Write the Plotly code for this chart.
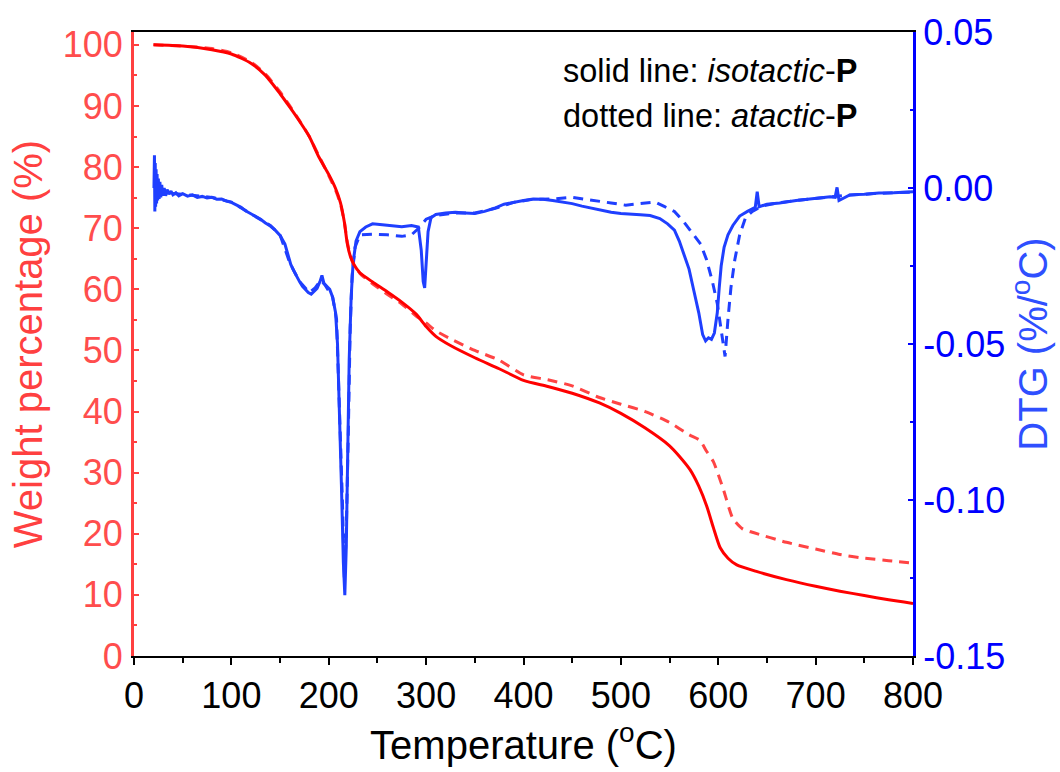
import plotly.graph_objects as go

# ---- TGA weight-loss curves (weight %, vs temperature in degC) ----
iso_wt_T = [20, 50, 80, 100, 120, 135, 150, 160, 170, 180, 190, 200, 207, 212, 216, 219,
            222, 226, 232, 245, 260, 275, 290, 300, 310, 325, 350, 375, 400, 425, 450,
            478, 500, 525, 550, 560, 571, 580, 588, 595, 602, 610, 619, 640, 670, 700,
            725, 750, 775, 800]
iso_wt = [100.0, 99.8, 99.2, 98.5, 97.0, 95.0, 92.0, 89.8, 87.5, 85.0, 81.6, 78.8, 76.5,
          74.2, 71.0, 67.5, 65.5, 64.0, 62.7, 61.2, 59.6, 57.9, 55.9, 53.9, 52.3, 50.8,
          48.8, 47.0, 45.1, 44.1, 43.0, 41.4, 39.7, 37.3, 34.4, 32.7, 30.5, 27.8, 24.6,
          21.0, 17.7, 16.0, 14.9, 13.8, 12.5, 11.4, 10.6, 9.9, 9.2, 8.6]

ata_wt_T = [20, 50, 80, 100, 120, 135, 150, 160, 170, 180, 190, 200, 207, 212, 216, 219,
            222, 226, 232, 245, 260, 275, 290, 300, 310, 325, 350, 375, 400, 425, 450,
            478, 500, 525, 550, 570, 581, 588, 595, 605, 615, 625, 636, 670, 700, 725,
            750, 775, 800]
ata_wt = [100.0, 99.8, 99.4, 98.7, 97.2, 95.2, 92.3, 90.0, 87.6, 85.0, 81.8, 78.6, 76.2,
          74.0, 71.0, 67.8, 65.6, 64.0, 62.6, 60.9, 59.2, 57.6, 55.6, 54.5, 53.2, 51.9,
          50.0, 48.4, 46.0, 45.2, 44.2, 42.3, 41.2, 40.0, 38.2, 36.2, 35.3, 33.5, 31.8,
          27.4, 22.5, 20.8, 20.2, 18.6, 17.5, 16.6, 16.0, 15.6, 15.2]

# ---- DTG curves (%/degC) ----
iso_dtg_T = [20.5, 21.0, 21.4, 21.8, 22.2, 22.7, 23.2, 23.7, 24.3, 25.0, 25.8, 26.6, 27.5,
             28.5, 29.5, 31, 32.5, 34, 36, 38, 40, 43, 46, 50, 55, 60, 65, 70, 75, 80, 85,
             90, 95, 100, 105, 110, 115, 120, 125, 130, 135, 140, 145, 150, 155, 158, 161,
             164, 167, 170, 173, 176, 179, 182, 185, 188, 191, 193, 195, 198, 201, 204,
             207, 209, 211, 213, 215, 216.5, 218, 219.5, 221, 223, 225, 228, 232, 238,
             245, 255, 265, 275, 285, 292, 295, 297, 298.5, 300, 302, 305, 310, 320, 330,
             340, 350, 360, 370, 380, 390, 400, 410, 420, 430, 440, 450, 460, 470, 480,
             490, 500, 510, 520, 530, 540, 548, 555, 560, 565, 570, 575, 580, 584, 587,
             590, 593, 596, 599, 601, 603, 606, 610, 615, 622, 630, 638, 640, 642, 650,
             663, 680, 700, 715, 720, 722, 724, 735, 750, 765, 780, 800]
iso_dtg = [0.0, 0.0105, -0.0075, 0.008, -0.006, 0.006, -0.005, 0.0045, -0.004, 0.003,
           -0.0035, 0.002, -0.003, 0.001, -0.0025, 0.0, -0.0025, -0.0005, -0.002, -0.001,
           -0.0022, -0.0015, -0.0025, -0.0018, -0.0026, -0.0022, -0.0030, -0.0027,
           -0.0032, -0.0030, -0.0036, -0.0035, -0.0042, -0.0046, -0.0055, -0.0062,
           -0.0074, -0.0083, -0.0092, -0.0100, -0.0112, -0.0122, -0.0135, -0.0152,
           -0.0180, -0.0215, -0.0245, -0.0265, -0.0285, -0.0300, -0.0315, -0.0325,
           -0.0335, -0.0340, -0.0330, -0.0322, -0.0300, -0.0280, -0.0305, -0.0315,
           -0.0325, -0.0350, -0.0400, -0.0500, -0.0700, -0.0950, -0.1200, -0.1305,
           -0.1150, -0.0850, -0.0550, -0.0350, -0.0240, -0.0170, -0.0140, -0.0125,
           -0.0115, -0.0118, -0.0122, -0.0124, -0.0120, -0.0125, -0.0200, -0.0300,
           -0.0320, -0.0250, -0.0140, -0.0095, -0.0085, -0.0080, -0.0078, -0.0080,
           -0.0082, -0.0075, -0.0065, -0.0052, -0.0045, -0.0040, -0.0035, -0.0036,
           -0.0040, -0.0045, -0.0050, -0.0058, -0.0065, -0.0072, -0.0078, -0.0082,
           -0.0085, -0.0086, -0.0088, -0.0098, -0.0115, -0.0135, -0.0170, -0.0215,
           -0.0260, -0.0330, -0.0400, -0.0470, -0.0490, -0.0480, -0.0485, -0.0465,
           -0.0400, -0.0320, -0.0250, -0.0190, -0.0150, -0.0120, -0.0090, -0.0075,
           -0.0062, -0.0012, -0.0060, -0.0052, -0.0048, -0.0040, -0.0033, -0.0028,
           -0.0030, 0.0002, -0.0040, -0.0022, -0.0020, -0.0016, -0.0015, -0.0012]

ata_dtg_T = [22, 30, 50, 80, 100, 120, 140, 150, 160, 170, 180, 186, 192, 196, 204, 208,
             211, 214, 216, 218, 220, 222, 224, 227, 232, 245, 260, 275, 285, 292, 300,
             310, 330, 350, 370, 390, 410, 430, 450, 470, 490, 505, 520, 535, 545, 555,
             565, 575, 582, 588, 594, 599, 603, 607, 610, 613, 617, 622, 628, 635, 645,
             660, 680, 700, 730, 760, 800]
ata_dtg = [-0.0020, -0.0015, -0.0020, -0.0030, -0.0045, -0.0082, -0.0120, -0.0150,
           -0.0240, -0.0300, -0.0335, -0.0320, -0.0295, -0.0310, -0.0350, -0.0420,
           -0.0700, -0.1000, -0.1250, -0.1100, -0.0800, -0.0450, -0.0280, -0.0190,
           -0.0150, -0.0148, -0.0150, -0.0155, -0.0150, -0.0130, -0.0100, -0.0088,
           -0.0080, -0.0080, -0.0066, -0.0046, -0.0036, -0.0035, -0.0030, -0.0038,
           -0.0048, -0.0055, -0.0050, -0.0045, -0.0060, -0.0075, -0.0110, -0.0150,
           -0.0180, -0.0230, -0.0300, -0.0370, -0.0450, -0.0540, -0.0420, -0.0320,
           -0.0230, -0.0150, -0.0095, -0.0075, -0.0058, -0.0048, -0.0040, -0.0033,
           -0.0024, -0.0018, -0.0013]

# ---- axis ticks ----
x_ticks = [0, 100, 200, 300, 400, 500, 600, 700, 800]
wt_ticks = [0, 10, 20, 30, 40, 50, 60, 70, 80, 90, 100]
dtg_ticks = [0.05, 0.00, -0.05, -0.10, -0.15]
dtg_tick_text = ["0.05", "0.00", "-0.05", "-0.10", "-0.15"]

FONT = "Liberation Sans, Arial, sans-serif"
RED = "#ff0000"
RED_LIGHT = "#ff4444"
RED_AXIS = "#ff4040"
BLUE = "#1f3fff"
BLUE_AXIS = "#0000ff"

fig = go.Figure()

# DTG curves on the right-hand axis (drawn underneath)
fig.add_trace(go.Scatter(x=ata_dtg_T, y=ata_dtg, mode="lines", yaxis="y",
                         line=dict(color=BLUE, width=3, dash="10px,7px"),
                         showlegend=False))
fig.add_trace(go.Scatter(x=iso_dtg_T, y=iso_dtg, mode="lines", yaxis="y",
                         line=dict(color=BLUE, width=3),
                         showlegend=False))

# Weight-loss curves on the left-hand axis (drawn on top)
fig.add_trace(go.Scatter(x=ata_wt_T, y=ata_wt, mode="lines", yaxis="y2",
                         line=dict(color=RED_LIGHT, width=3, dash="10px,7px",
                                   shape="spline", smoothing=0.6),
                         showlegend=False))
fig.add_trace(go.Scatter(x=iso_wt_T, y=iso_wt, mode="lines", yaxis="y2",
                         line=dict(color=RED, width=3, shape="spline", smoothing=0.6),
                         showlegend=False))

fig.update_layout(
    width=1060, height=772,
    margin=dict(l=134, r=147, t=29, b=113),
    paper_bgcolor="white", plot_bgcolor="white",
    font=dict(family=FONT, color="black"),
    xaxis=dict(
        range=[0, 800], tickvals=x_ticks, showgrid=False, zeroline=False,
        showline=True, linecolor="black", linewidth=2, mirror=True,
        ticks="outside", ticklen=7, tickwidth=2, tickcolor="black",
        minor=dict(dtick=50, ticks="outside", ticklen=5, tickwidth=2, tickcolor="black"),
        tickfont=dict(size=36, color="black", family=FONT),
        title=dict(text="Temperature (<sup>o</sup>C)", standoff=16,
                   font=dict(size=40, color="black", family=FONT)),
    ),
    yaxis=dict(
        side="right", range=[-0.15, 0.05], tickvals=dtg_ticks, ticktext=dtg_tick_text,
        showgrid=False, zeroline=False,
        showline=True, linecolor=BLUE_AXIS, linewidth=3,
        ticks="inside", ticklen=5, tickwidth=2, tickcolor=BLUE_AXIS,
        minor=dict(dtick=0.025, ticks="inside", ticklen=3, tickwidth=2,
                   tickcolor=BLUE_AXIS),
        tickfont=dict(size=36, color=BLUE_AXIS, family=FONT),
        ticklabelstandoff=0,
        title=dict(text="DTG (%/<sup>o</sup>C)", standoff=14,
                   font=dict(size=40, color="#2f4fff", family=FONT)),
    ),
    yaxis2=dict(
        overlaying="y", side="left", range=[0, 102.1], tickvals=wt_ticks,
        showgrid=False, zeroline=False,
        showline=True, linecolor=RED_AXIS, linewidth=3,
        ticks="inside", ticklen=5, tickwidth=2, tickcolor=RED_AXIS,
        minor=dict(dtick=5, ticks="inside", ticklen=3, tickwidth=2, tickcolor=RED_AXIS),
        tickfont=dict(size=36, color="#ff4d4d", family=FONT),
        ticklabelstandoff=1,
        title=dict(text="Weight percentage (%)", standoff=8,
                   font=dict(size=40, color=RED_AXIS, family=FONT)),
    ),
    annotations=[
        dict(text="solid line: <i>isotactic</i>-<b>P</b>", xref="paper", yref="paper",
             x=0.548, y=0.937, xanchor="left", yanchor="middle", showarrow=False,
             font=dict(size=32.5, color="black", family=FONT)),
        dict(text="dotted line: <i>atactic</i>-<b>P</b>", xref="paper", yref="paper",
             x=0.548, y=0.866, xanchor="left", yanchor="middle", showarrow=False,
             font=dict(size=32.5, color="black", family=FONT)),
    ],
)

fig.write_html("out.html")
